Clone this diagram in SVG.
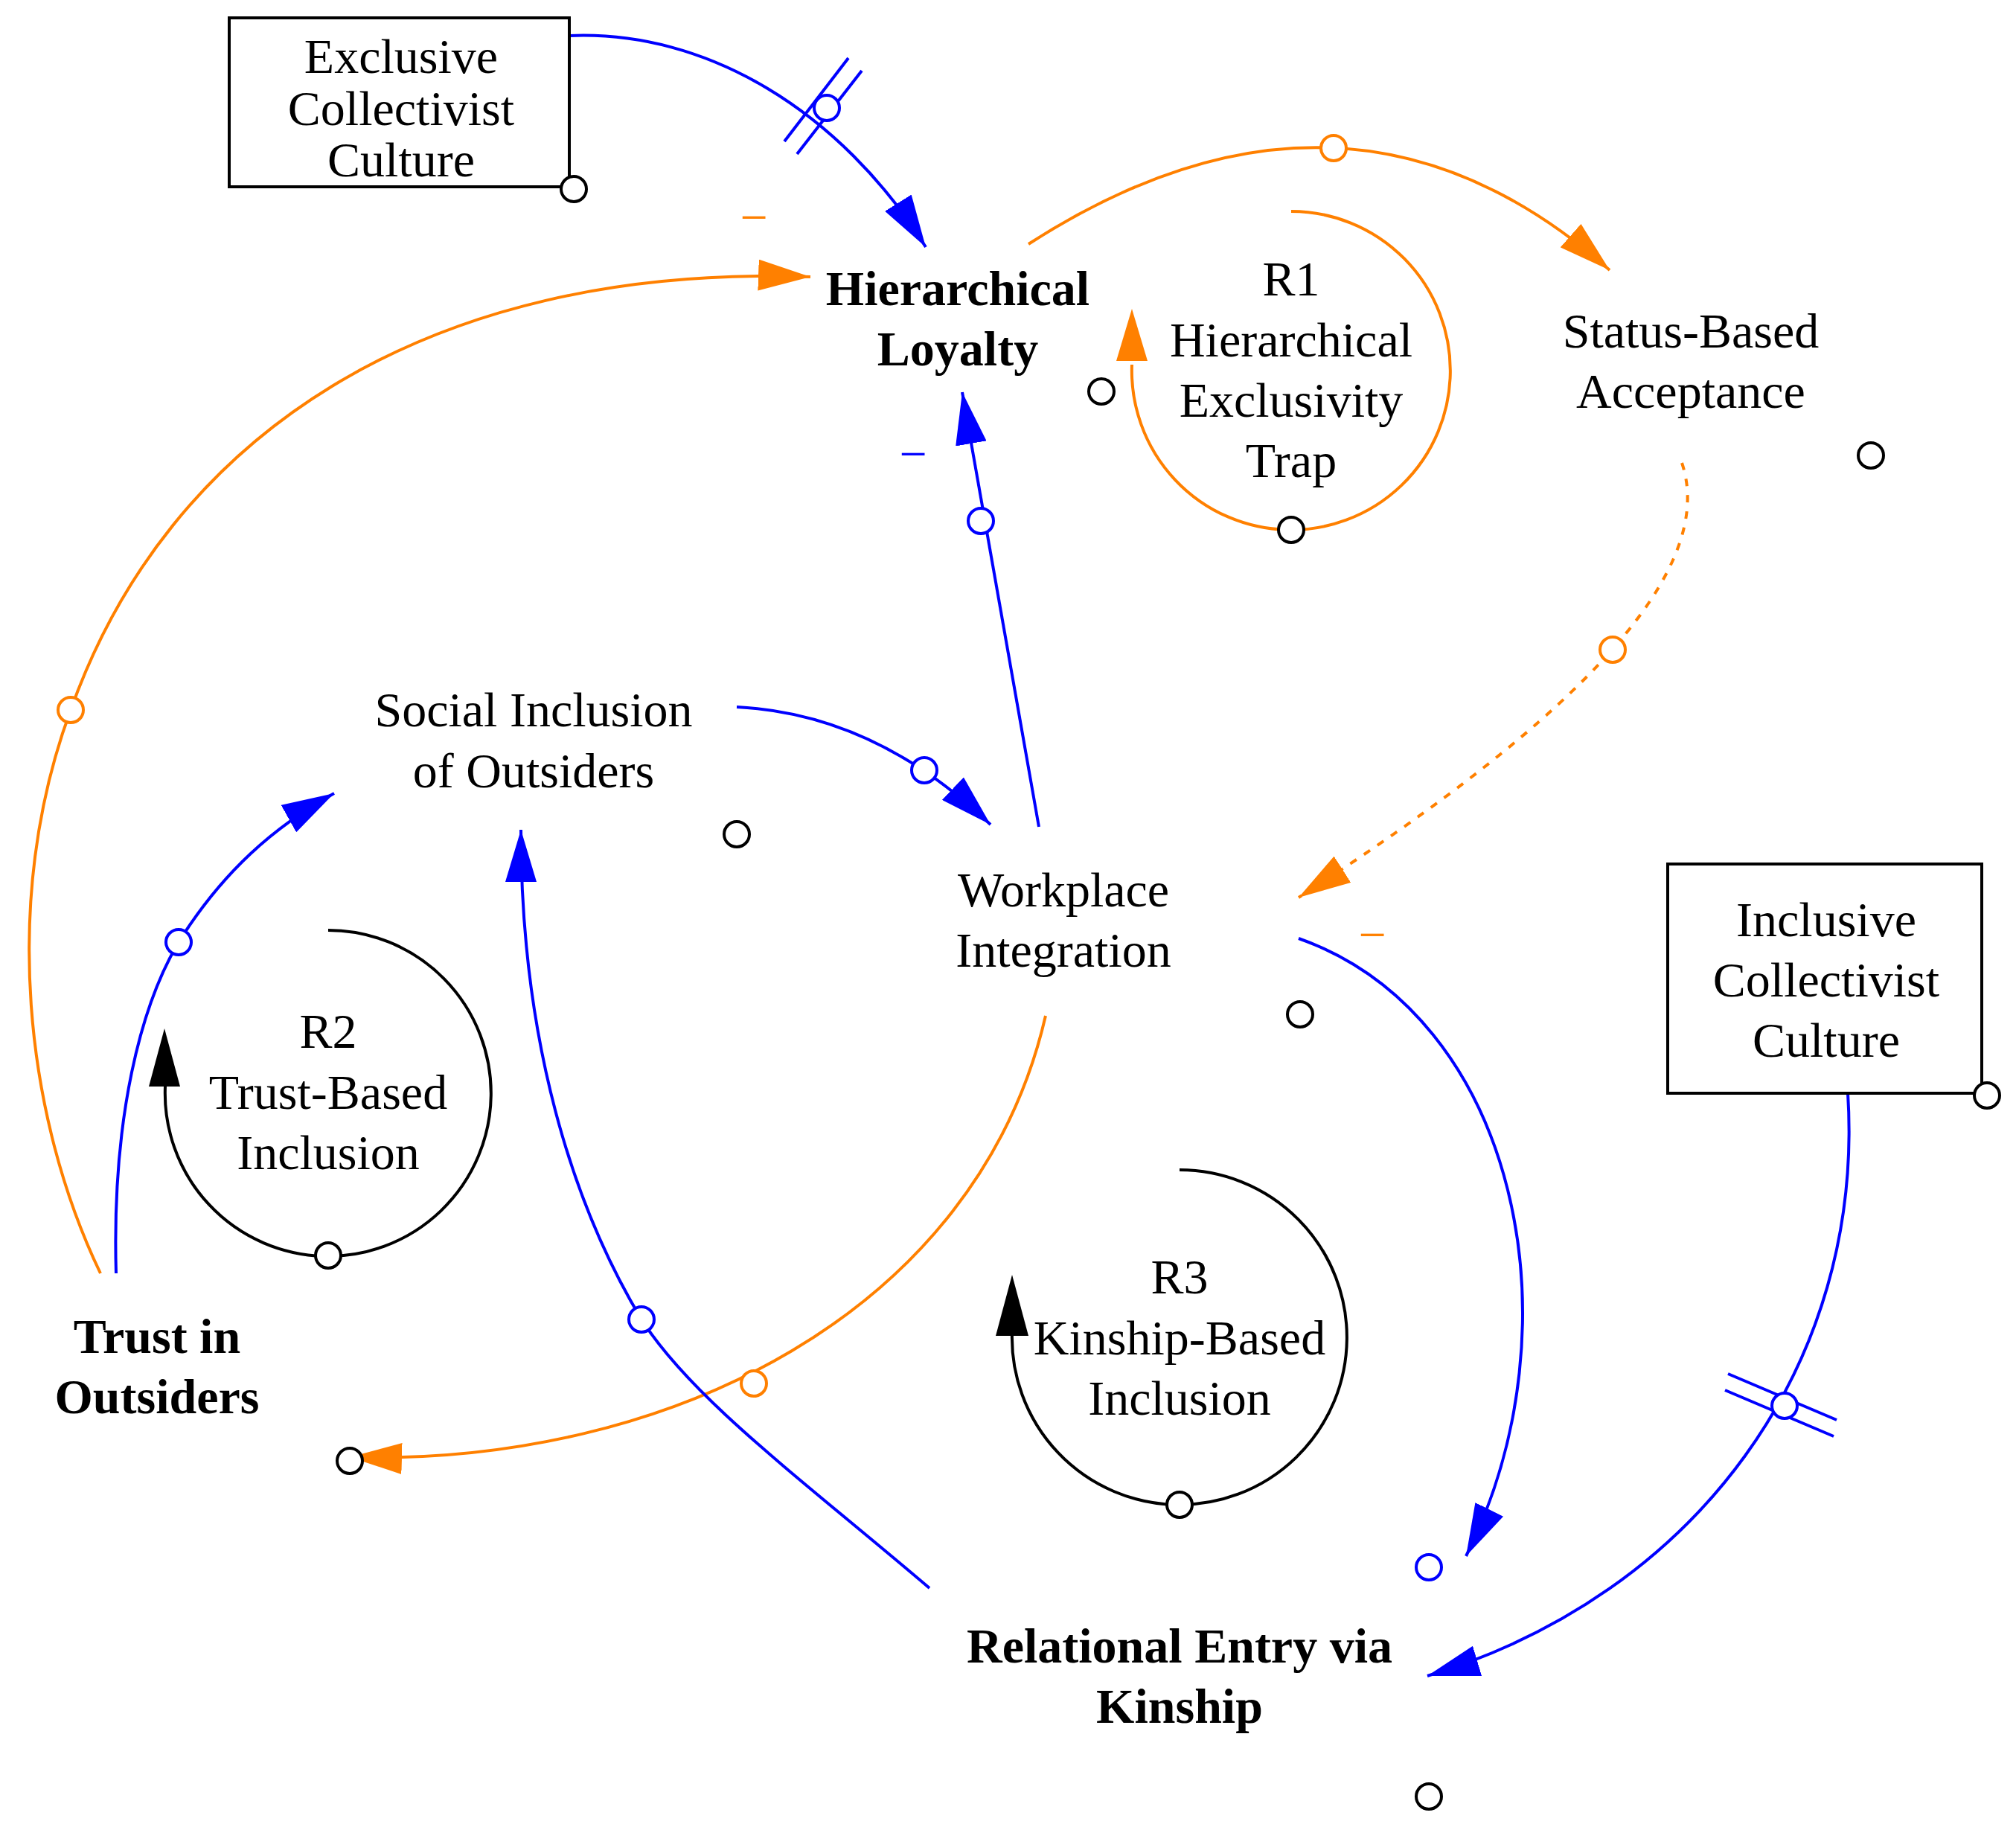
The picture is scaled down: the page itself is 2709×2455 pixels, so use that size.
<svg xmlns="http://www.w3.org/2000/svg" width="2709" height="2455" viewBox="0 0 2709 2455">
<style>
text{font-family:"Liberation Serif","DejaVu Serif",serif;font-size:66px;fill:#000;text-anchor:middle}
.b{font-weight:bold}
.bl{fill:none;stroke:#0000ff;stroke-width:4}
.or{fill:none;stroke:#ff8000;stroke-width:4}
.bk{fill:none;stroke:#000;stroke-width:4}
.pb{fill:#fff;stroke:#0000ff;stroke-width:4}
.po{fill:#fff;stroke:#ff8000;stroke-width:4}
.pk{fill:#fff;stroke:#000;stroke-width:4}
</style>
<defs>
<marker id="ab" viewBox="0 0 70 42" refX="70" refY="21" markerWidth="70" markerHeight="42" markerUnits="userSpaceOnUse" orient="auto"><path d="M0,0L70,21L0,42Z" fill="#0000ff"/></marker>
<marker id="ao" viewBox="0 0 70 42" refX="70" refY="21" markerWidth="70" markerHeight="42" markerUnits="userSpaceOnUse" orient="auto"><path d="M0,0L70,21L0,42Z" fill="#ff8000"/></marker>
</defs>
<rect width="2709" height="2455" fill="#fff"/>
<g id="connectors">
<path class="bl" d="M765,48 C950,40 1130,150 1244,332" marker-end="url(#ab)"/>
<line class="bl" x1="1054" y1="190" x2="1140" y2="78"/><line class="bl" x1="1071" y1="207" x2="1158" y2="95"/>
<circle class="pb" cx="1111" cy="145" r="17"/>
<path class="or" d="M1382,328 Q1811,52 2163,363" marker-end="url(#ao)"/>
<circle class="po" cx="1792" cy="199" r="17"/>
<path class="or" d="M2260,622 Q2331,831 1745,1206" stroke-dasharray="10,12" marker-end="url(#ao)"/>
<circle class="po" cx="2167" cy="873" r="17"/>
<text x="1844" y="1278" style="fill:#ff8000">−</text>
<path class="bl" d="M1396,1111 Q1340,800 1293,527" marker-end="url(#ab)"/>
<circle class="pb" cx="1318" cy="700" r="17"/>
<text x="1227" y="632" style="fill:#0000ff">−</text>
<path class="bl" d="M990,950 Q1175,959 1331,1108" marker-end="url(#ab)"/>
<circle class="pb" cx="1242" cy="1035" r="17"/>
<path class="bl" d="M156,1711 C150,1500 190,1350 240,1266 C300,1170 370,1110 449,1066" marker-end="url(#ab)"/>
<circle class="pb" cx="240" cy="1266" r="17"/>
<path class="or" d="M135,1711 C35,1503 0,1210 95,954 C225,588 570,354 1089,372" marker-end="url(#ao)"/>
<circle class="po" cx="95" cy="954" r="17"/>
<text x="1013" y="314" style="fill:#ff8000">−</text>
<path class="or" d="M1405,1365 C1313,1763 899,1970 470,1958" marker-end="url(#ao)"/>
<circle class="po" cx="1013" cy="1859" r="17"/>
<path class="bl" d="M1249,2134 C1080,1990 930,1880 862,1773 C770,1620 700,1400 700,1115" marker-end="url(#ab)"/>
<circle class="pb" cx="862" cy="1773" r="17"/>
<path class="bl" d="M1745,1261 C2039,1365 2125,1780 1970,2091" marker-end="url(#ab)"/>
<circle class="pb" cx="1920" cy="2106" r="17"/>
<path class="bl" d="M2483,1469 C2506,1832 2281,2143 1918,2252" marker-end="url(#ab)"/>
<line class="bl" x1="2322" y1="1846" x2="2468" y2="1908"/><line class="bl" x1="2318" y1="1868" x2="2464" y2="1930"/>
<circle class="pb" cx="2398" cy="1889" r="17"/>
</g>
<g id="exclusive">
<rect x="308" y="24" width="457" height="227" fill="none" stroke="#000" stroke-width="4"/>
<text x="539" y="98">Exclusive</text><text x="539" y="168">Collectivist</text><text x="539" y="237">Culture</text>
<circle class="pk" cx="771" cy="254" r="17"/>
</g>
<g id="hierarchical-loyalty">
<text class="b" x="1287" y="410">Hierarchical</text><text class="b" x="1287" y="491">Loyalty</text>
<circle class="pk" cx="1480" cy="526" r="17"/>
</g>
<g id="r1">
<path class="or" d="M1735,284 A214,214 0 1 1 1521,490"/>
<path d="M1521,415 L1542,485 L1500,485Z" fill="#ff8000"/>
<circle class="pk" cx="1735" cy="712" r="17"/>
<text x="1735" y="397">R1</text><text x="1735" y="479">Hierarchical</text><text x="1735" y="560">Exclusivity</text><text x="1735" y="641">Trap</text>
</g>
<g id="status">
<text x="2272" y="467">Status-Based</text><text x="2272" y="548">Acceptance</text>
<circle class="pk" cx="2514" cy="612" r="17"/>
</g>
<g id="social">
<text x="717" y="976">Social Inclusion</text><text x="717" y="1058">of Outsiders</text>
<circle class="pk" cx="990" cy="1121" r="17"/>
</g>
<g id="workplace">
<text x="1429" y="1218">Workplace</text><text x="1429" y="1299">Integration</text>
<circle class="pk" cx="1747" cy="1363" r="17"/>
</g>
<g id="inclusive">
<rect x="2241" y="1161" width="422" height="308" fill="none" stroke="#000" stroke-width="4"/>
<text x="2454" y="1258">Inclusive</text><text x="2454" y="1339">Collectivist</text><text x="2454" y="1420">Culture</text>
<circle class="pk" cx="2670" cy="1472" r="17"/>
</g>
<g id="r2">
<path class="bk" d="M441,1250 A219,219 0 1 1 222,1460"/>
<path d="M221,1382 L242,1460 L200,1460Z" fill="#000"/>
<circle class="pk" cx="441" cy="1687" r="17"/>
<text x="441" y="1408">R2</text><text x="441" y="1490">Trust-Based</text><text x="441" y="1571">Inclusion</text>
</g>
<g id="trust">
<text class="b" x="211" y="1818">Trust in</text><text class="b" x="211" y="1899">Outsiders</text>
<circle class="pk" cx="470" cy="1963" r="17"/>
</g>
<g id="r3">
<path class="bk" d="M1585,1572 A225,225 0 1 1 1360,1790"/>
<path d="M1360,1713 L1382,1795 L1338,1795Z" fill="#000"/>
<circle class="pk" cx="1585" cy="2022" r="17"/>
<text x="1585" y="1738">R3</text><text x="1585" y="1820">Kinship-Based</text><text x="1585" y="1901">Inclusion</text>
</g>
<g id="relational">
<text class="b" x="1585" y="2234">Relational Entry via</text><text class="b" x="1585" y="2315">Kinship</text>
<circle class="pk" cx="1920" cy="2414" r="17"/>
</g>
</svg>
